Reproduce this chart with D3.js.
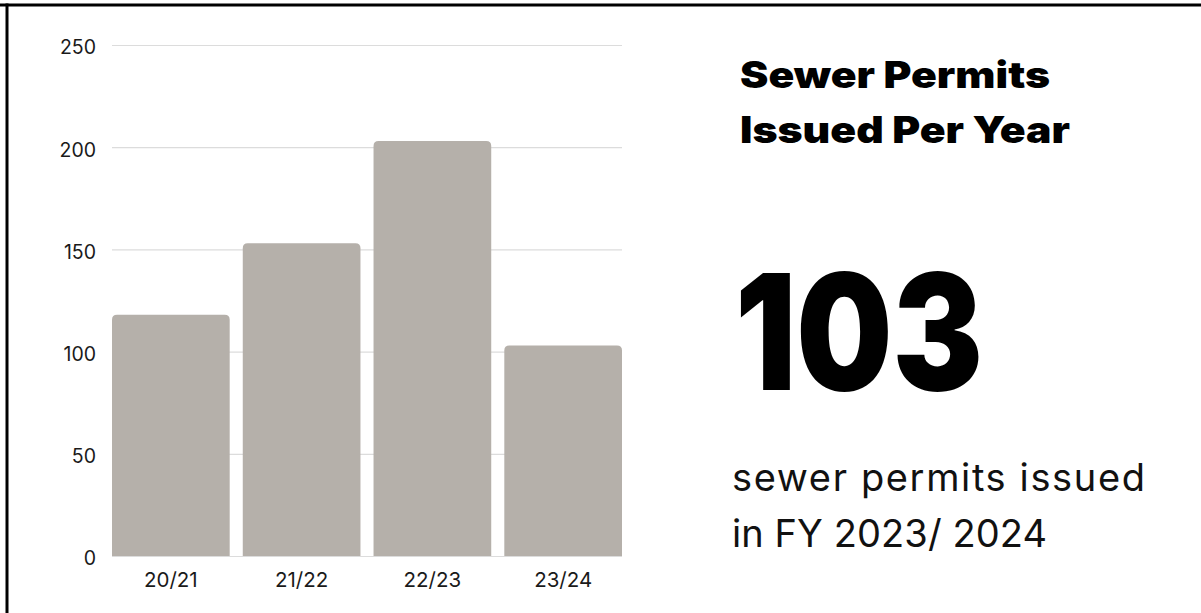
<!DOCTYPE html>
<html>
<head>
<meta charset="utf-8">
<script src="https://cdn.jsdelivr.net/npm/d3@7"></script>
<style>
  html, body { margin: 0; padding: 0; background: #fff; }
  svg { display: block; }
</style>
</head>
<body>
<svg id="chart" width="1201" height="613"></svg>
<script>
// Sewer permits issued per fiscal year
const categories = ["20/21", "21/22", "22/23", "23/24"];
const permits = [118, 153, 203, 103];
const yTicks = [0, 50, 100, 150, 200, 250];
const headline = "103";
const titleLines = ["Sewer Permits", "Issued Per Year"];
const captionLines = ["sewer permits issued", "in FY 2023/ 2024"];

const W = 1201, H = 613;
const plot = { left: 112, right: 622, top: 45, bottom: 556 };
const barColor = "#b5b0aa";
const gridColor = "#dcdcdc";
const labelFont = "Inter, 'Noto Sans', sans-serif";

const svg = d3.select("#chart");

// frame: top and left rules
svg.append("line").attr("x1", 0).attr("x2", W).attr("y1", 5).attr("y2", 5)
  .attr("stroke", "#000").attr("stroke-width", 3);
svg.append("line").attr("x1", 7).attr("x2", 7).attr("y1", 3.5).attr("y2", H)
  .attr("stroke", "#000").attr("stroke-width", 3);

const x = d3.scaleBand()
  .domain(categories)
  .range([plot.left, plot.right])
  .paddingInner(0.1)
  .paddingOuter(0);

const y = d3.scaleLinear()
  .domain([0, 250])
  .range([plot.bottom, plot.top]);

// y axis with gridlines
const yAxis = svg.append("g")
  .attr("transform", `translate(${plot.left},0)`)
  .call(d3.axisLeft(y).tickValues(yTicks)
    .tickSize(-(plot.right - plot.left)).tickPadding(16));
yAxis.select(".domain").remove();
yAxis.selectAll(".tick line").attr("stroke", gridColor).attr("stroke-width", 1.2);
yAxis.selectAll(".tick text")
  .attr("font-family", labelFont).attr("font-size", 19.5)
  .attr("fill", "#1a1a1a").attr("dy", "0.46em");

// bars with rounded top corners
const r = 5;
svg.append("g").selectAll("path")
  .data(permits)
  .join("path")
  .attr("fill", barColor)
  .attr("d", (d, i) => {
    const x0 = x(categories[i]), w = x.bandwidth();
    const yt = y(d), yb = y(0);
    return `M${x0},${yb}V${yt + r}Q${x0},${yt} ${x0 + r},${yt}` +
           `H${x0 + w - r}Q${x0 + w},${yt} ${x0 + w},${yt + r}V${yb}Z`;
  });

// x axis labels
const xAxis = svg.append("g")
  .attr("transform", `translate(0,${plot.bottom})`)
  .call(d3.axisBottom(x).tickSize(0));
xAxis.select(".domain").remove();
xAxis.selectAll(".tick text")
  .attr("font-family", labelFont).attr("font-size", 20.5)
  .attr("fill", "#1a1a1a").attr("y", 31).attr("dy", 0);

// right-hand panel text
function fitText(sel, width, mode) {
  sel.attr("textLength", width).attr("lengthAdjust", mode || "spacingAndGlyphs");
}

const title = svg.append("g").attr("font-family", labelFont)
  .attr("font-weight", 900).attr("font-size", 37).attr("fill", "#000");
title.append("text").attr("x", 740).attr("y", 88).text(titleLines[0])
  .call(fitText, 310);
title.append("text").attr("x", 740).attr("y", 143).text(titleLines[1])
  .call(fitText, 330);

svg.append("text")
  .attr("x", 735).attr("y", 390)
  .attr("font-family", labelFont).attr("font-weight", 900)
  .attr("font-size", 161).attr("fill", "#000")
  .text(headline).call(fitText, 248);

const caption = svg.append("g").attr("font-family", labelFont)
  .attr("font-weight", 400).attr("font-size", 38).attr("fill", "#111");
caption.append("text").attr("x", 732).attr("y", 491).text(captionLines[0])
  .call(fitText, 413, "spacing");
caption.append("text").attr("x", 732).attr("y", 547).text(captionLines[1])
  .call(fitText, 315, "spacing");
</script>
</body>
</html>
